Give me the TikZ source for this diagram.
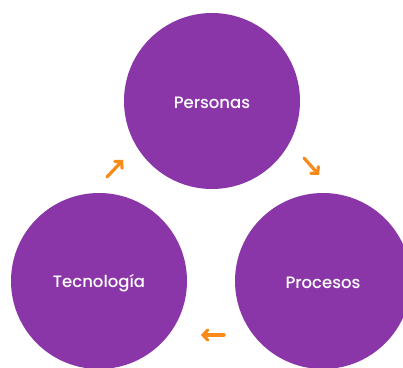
\documentclass[tikz,border=0pt]{standalone}
\usepackage{fontspec}
\setmainfont{Poppins}[UprightFont=* Medium]
\usetikzlibrary{arrows.meta}
\definecolor{purp}{HTML}{8B36A8}
\definecolor{orng}{HTML}{F88A1A}
\tikzset{
  blob/.style={circle, fill=purp, minimum size=176pt, inner sep=0pt, text=white, font=\fontsize{16.5}{19}\selectfont},
  lbl/.style={text=white, font=\fontsize{16.5}{19}\selectfont, inner sep=0pt},
  flow/.style={draw=orng, line width=3.2pt, line cap=round, -{Straight Barb[length=4.5pt,width=10pt,line cap=round]}}
}
\begin{document}
\begin{tikzpicture}[x=1pt,y=1pt]
\useasboundingbox (0,0) rectangle (403,367);
\clip (0,0) rectangle (403,367);
\node[blob] (per) at (212,266) {};
\node[blob] (tec) at (99,86) {};
\node[blob] (pro) at (323,86) {};
\node[lbl] (perl) at ([yshift=-2pt]per.center) {Personas};
\node[lbl] (tecl) at ([yshift=-2pt]tec.center) {Tecnología};
\node[lbl] (prol) at ([yshift=-2pt]pro.center) {Procesos};
\coordinate (a1s) at (107,190);
\coordinate (a1e) at (123,207);
\coordinate (a2s) at (304,209);
\coordinate (a2e) at (319,192);
\coordinate (a3s) at (224,32);
\coordinate (a3e) at (201,32);
\draw[flow] (a1s) -- (a1e);
\draw[flow] (a2s) -- (a2e);
\draw[flow] (a3s) -- (a3e);
\end{tikzpicture}
\end{document}
